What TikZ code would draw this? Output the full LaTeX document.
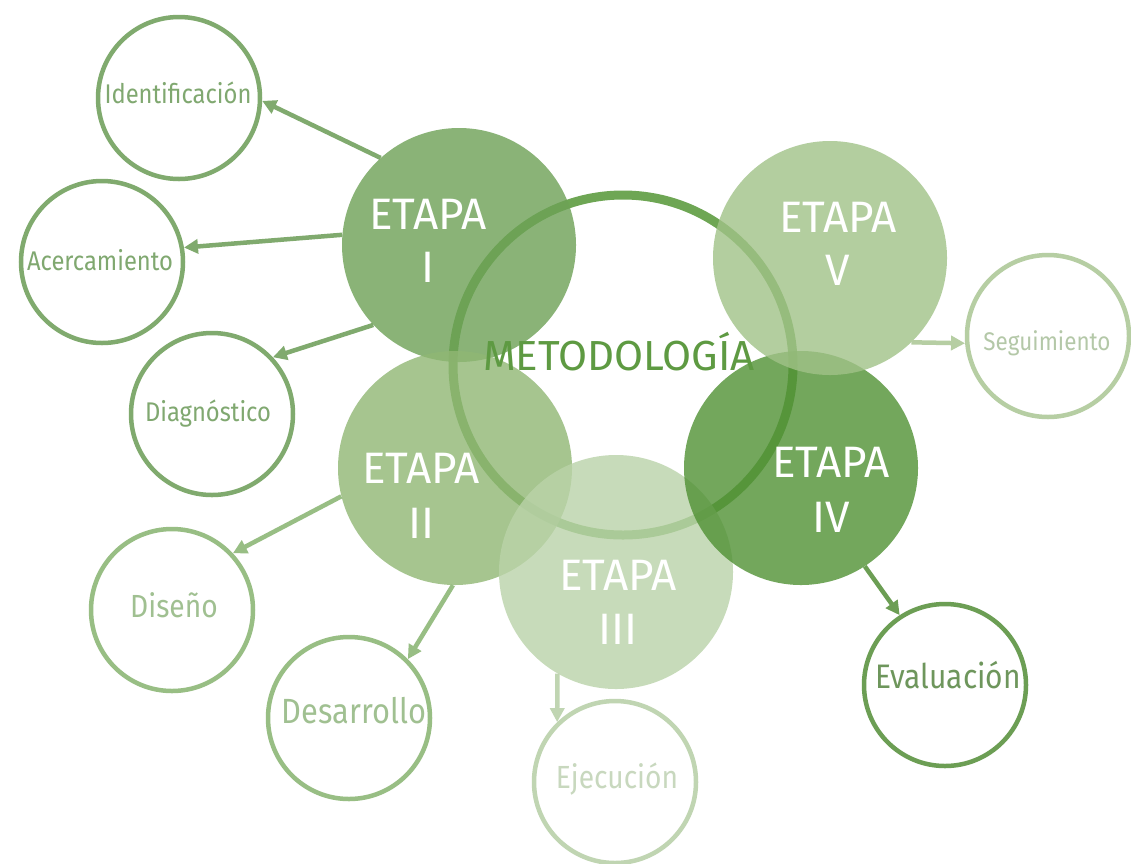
\documentclass[tikz,border=0pt]{standalone}
\usepackage{fontspec}
\setmainfont[FakeStretch=0.88]{Fira Sans}
\newfontfamily\capfont{Fira Sans}
\usetikzlibrary{arrows.meta}
\definecolor{cI}{RGB}{109,161,86}
\definecolor{cII}{RGB}{144,183,116}
\definecolor{cIII}{RGB}{186,211,169}
\definecolor{cIV}{RGB}{80,145,52}
\definecolor{cV}{RGB}{161,194,136}
\definecolor{ringc}{RGB}{110,166,84}
\definecolor{metc}{RGB}{94,154,66}
\definecolor{gA}{RGB}{128,170,110}
\definecolor{gB}{RGB}{152,190,132}
\definecolor{gC}{RGB}{192,213,178}
\definecolor{gD}{RGB}{108,158,84}
\definecolor{gE}{RGB}{182,206,163}
\definecolor{tA}{RGB}{128,168,112}
\definecolor{tB}{RGB}{160,192,145}
\definecolor{tC}{RGB}{200,216,190}
\definecolor{tD}{RGB}{110,150,92}
\definecolor{tE}{RGB}{180,200,168}
\begin{document}
\begin{tikzpicture}[x=1pt,y=-1pt,
  etape/.style={circle,inner sep=0pt,minimum size=234pt,fill opacity=0.8,draw=none},
  sub/.style={circle,inner sep=0pt,minimum size=162pt,line width=4.5pt,draw},
  conn/.style={line width=4.5pt,-{Triangle[length=14pt,width=14pt]}},
  etxt/.style={text=white,font=\capfont\fontsize{44}{44}\selectfont,anchor=base,inner sep=0pt},
  stxt/.style={anchor=base,inner sep=0pt,font=\fontsize{27}{27}\selectfont},
  btxt/.style={anchor=base,inner sep=0pt,font=\fontsize{32}{32}\selectfont}]
\useasboundingbox[fill=white] (0,0) rectangle (1131,863);
% central ring
\node[circle,draw=ringc,line width=9pt,minimum size=340pt,inner sep=0pt] (ring) at (623,365) {};
% stage circles
\node[etape,fill=cI] (e1) at (459,245) {};
\node[etape,fill=cII] (e2) at (455,468) {};
\node[etape,fill=cIII] (e3) at (616,572) {};
\node[etape,fill=cIV] (e4) at (801,468) {};
\node[etape,fill=cV] (e5) at (830,258) {};
% outer circles
\node[sub,draw=gA] (ident) at (179,98) {};
\node[sub,draw=gA] (acer) at (102,262) {};
\node[sub,draw=gA] (diag) at (212,414) {};
\node[sub,draw=gB] (dise) at (172,610) {};
\node[sub,draw=gB] (desa) at (349,718) {};
\node[sub,draw=gC] (ejec) at (615,782) {};
\node[sub,draw=gD] (eval) at (945,685) {};
\node[sub,draw=gE] (segu) at (1048,336) {};
% connectors
\draw[conn,draw=gA] (e1.132) -- (ident.-2);
\draw[conn,draw=gA] (e1.175) -- (acer.10);
\draw[conn,draw=gA] (e1.-137) -- (diag.43);
\draw[conn,draw=gB] (e2.194) -- (dise.43);
\draw[conn,draw=gB] (e2.-91) -- (desa.45);
\draw[conn,draw=gC] (e3.-120) -- (ejec.134);
\draw[conn,draw=gD] (e4.-57) -- (eval.123);
\draw[conn,draw=gE] (e5.-46) -- (segu.185);
% texts
\node[anchor=base,inner sep=0pt,text=metc,font=\capfont\fontsize{42}{42}\selectfont] (met) at (619,370) {METODOLOGÍA};
\node[etxt] (t1a) at (428,229) {ETAPA};
\node[etxt] (t1b) at (428,282) {I};
\node[etxt] (t2a) at (421,483) {ETAPA};
\node[etxt] (t2b) at (421,538) {II};
\node[etxt] (t3a) at (618,590) {ETAPA};
\node[etxt] (t3b) at (618,644) {III};
\node[etxt] (t4a) at (831,477) {ETAPA};
\node[etxt] (t4b) at (831,532) {IV};
\node[etxt] (t5a) at (838,232) {ETAPA};
\node[etxt] (t5b) at (838,285) {V};
\node[stxt,text=tA] (l1) at (178,103) {Identificación};
\node[stxt,text=tA] (l2) at (100,270) {Acercamiento};
\node[stxt,text=tA] (l3) at (208,421) {Diagnóstico};
\node[btxt,text=tB] (l4) at (174,617) {Diseño};
\node[btxt,text=tB,font=\fontsize{35}{35}\selectfont] (l5) at (354,723) {Desarrollo};
\node[btxt,text=tC] (l6) at (617,788) {Ejecución};
\node[btxt,text=tD,font=\fontsize{34}{34}\selectfont] (l7) at (948,688) {Evaluación};
\node[stxt,text=tE,font=\fontsize{25.5}{25.5}\selectfont] (l8) at (1047,350) {Seguimiento};
\end{tikzpicture}
\end{document}
